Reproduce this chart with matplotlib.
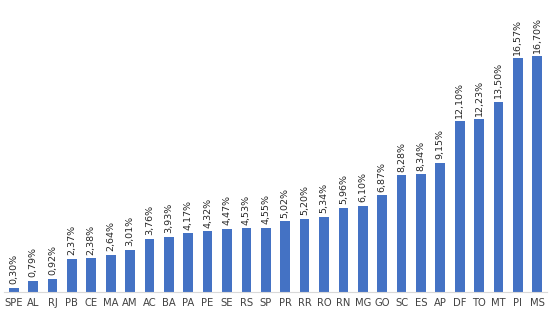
import matplotlib.pyplot as plt

estados = ['SPE', 'AL', 'RJ', 'PB', 'CE', 'MA', 'AM', 'AC', 'BA', 'PA', 'PE', 'SE', 'RS', 'SP',
           'PR', 'RR', 'RO', 'RN', 'MG', 'GO', 'SC', 'ES', 'AP', 'DF', 'TO', 'MT', 'PI', 'MS']
valores = [0.30, 0.79, 0.92, 2.37, 2.38, 2.64, 3.01, 3.76, 3.93, 4.17, 4.32, 4.47, 4.53, 4.55,
           5.02, 5.20, 5.34, 5.96, 6.10, 6.87, 8.28, 8.34, 9.15, 12.10, 12.23, 13.50, 16.57, 16.70]

fig = plt.figure(figsize=(5.51, 3.09), dpi=100)
ax = fig.add_axes([4 / 551, 17 / 309, 543 / 551, 292 / 309])

x = range(len(estados))
ax.bar(x, valores, width=0.5, color='#4472C4')

# rótulos de valor, verticais, acima de cada barra
for i, v in zip(x, valores):
    ax.text(i, v + 0.25, f"{v:.2f}%".replace('.', ','), rotation=90,
            ha='center', va='bottom', fontsize=6.8, color='#262626')

ax.set_xlim(-0.5, len(estados) - 0.5)
ax.set_ylim(0, 20.7)
ax.set_xticks(list(x))
ax.set_xticklabels(estados, fontsize=7.2, color='#404040')
ax.tick_params(axis='x', length=0, pad=4.5)
ax.set_yticks([])
for s in ['top', 'right', 'left']:
    ax.spines[s].set_visible(False)
ax.spines['bottom'].set_color('#d9d9d9')

fig.savefig('out.png', dpi=100)
